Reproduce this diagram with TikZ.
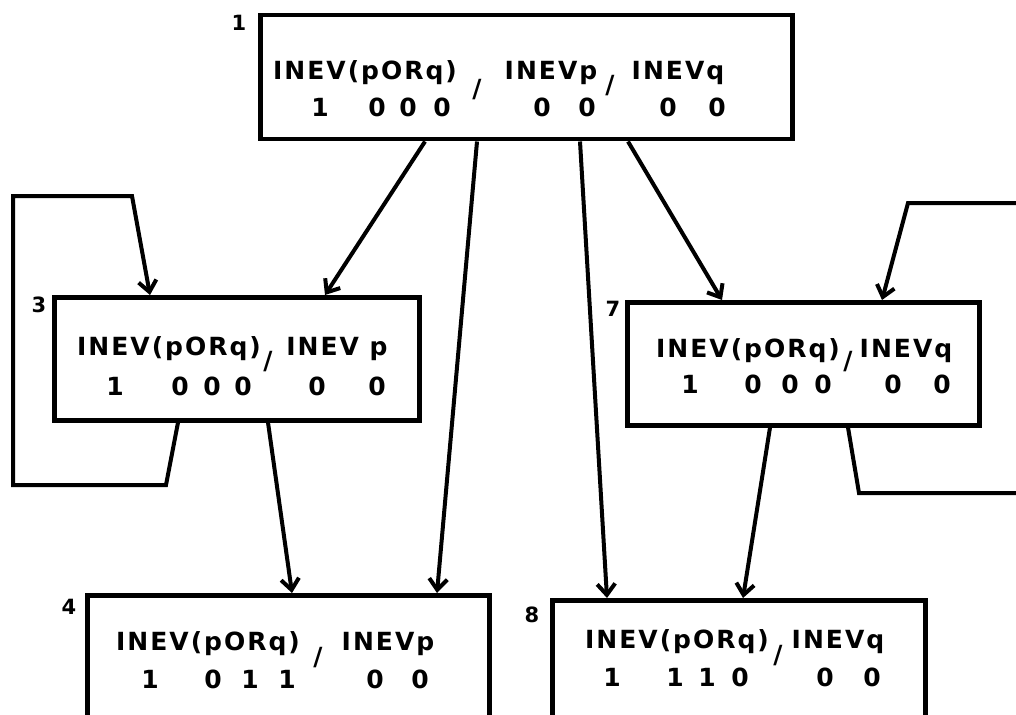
\documentclass[tikz,border=0pt]{standalone}
\usepackage{fontspec}
\newfontfamily\letterfont[LetterSpace=8]{DejaVu Sans}
\usetikzlibrary{arrows.meta, calc}
\tikzset{
    state/.style={draw, line width=4.5pt, rectangle, anchor=north west, inner sep=0pt},
    word/.style={font=\letterfont\bfseries\fontsize{25}{28}\selectfont, inner sep=0pt, anchor=base},
    digit/.style={font=\letterfont\bfseries\fontsize{25}{28}\selectfont, inner sep=0pt, anchor=base},
    comma/.style={font=\letterfont\bfseries\fontsize{25}{28}\selectfont, inner sep=0pt},
    num/.style={font=\letterfont\bfseries\fontsize{21}{24}\selectfont, inner sep=0pt},
    link/.style={line width=4pt, -{Straight Barb[length=11pt,width=18pt]}},
    wire/.style={line width=4pt},
}

\begin{document}
\begin{tikzpicture}[x=1pt, y=-1pt]
\useasboundingbox (0,0) rectangle (1016,714);

% state boxes
\node[state, minimum width=532pt, minimum height=124pt] (b1) at (258,13) {};
\node[state, minimum width=365pt, minimum height=123pt] (b3) at (52,295) {};
\node[state, minimum width=352pt, minimum height=123pt] (b7) at (625,300) {};
\node[state, minimum width=402pt, minimum height=140pt] (b4) at (85,593) {};
\node[state, minimum width=373pt, minimum height=140pt] (b8) at (550,598) {};

% box numbers
\node[num] (n1) at (239,23) {1};
\node[num] (n3) at (39,305) {3};
\node[num] (n7) at (613,309) {7};
\node[num] (n4) at (69,607) {4};
\node[num] (n8) at (532,615) {8};

% box 1
\node[word] (w1a) at (365,80) {INEV(pORq)};
\node[comma] (c1a) at (477,90) {/};
\node[word] (w1b) at (551,80) {INEVp};
\node[comma] (c1b) at (610,86) {/};
\node[word] (w1c) at (678,80) {INEVq};
\foreach \x/\d [count=\i] in {320/1,377/0,408/0,442/0,542/0,587/0,668/0,717/0}
    \node[digit] (v1-\i) at (\x,117) {\d};

% box 3
\node[word] (w3a) at (169,355) {INEV(pORq)};
\node[comma] (c3a) at (268,362) {/};
\node[word] (w3b) at (337,355) {INEV p};
\foreach \x/\d [count=\i] in {115/1,180/0,212/0,243/0,317/0,377/0}
    \node[digit] (v3-\i) at (\x,395) {\d};

% box 7
\node[word] (w7a) at (748,357) {INEV(pORq)};
\node[comma] (c7a) at (848,362) {/};
\node[word] (w7b) at (906,357) {INEVq};
\foreach \x/\d [count=\i] in {690/1,753/0,790/0,823/0,893/0,942/0}
    \node[digit] (v7-\i) at (\x,393) {\d};

% box 4
\node[word] (w4a) at (208,650) {INEV(pORq)};
\node[comma] (c4a) at (318,658) {/};
\node[word] (w4b) at (388,650) {INEVp};
\foreach \x/\d [count=\i] in {150/1,213/0,250/1,287/1,375/0,420/0}
    \node[digit] (v4-\i) at (\x,688) {\d};

% box 8
\node[word] (w8a) at (677,648) {INEV(pORq)};
\node[comma] (c8a) at (778,656) {/};
\node[word] (w8b) at (838,648) {INEVq};
\foreach \x/\d [count=\i] in {612/1,675/1,707/1,740/0,825/0,872/0}
    \node[digit] (v8-\i) at (\x,686) {\d};

% transitions
\draw[link] ($(b1.south west)+(167,0)$) -- ($(b3.north west)+(273,0)$);
\draw[link] ($(b1.south west)+(219,0)$) -- ($(b4.north west)+(352,0)$);
\draw[link] ($(b1.south west)+(322,0)$) -- ($(b8.north west)+(57,0)$);
\draw[link] ($(b1.south west)+(370,0)$) -- ($(b7.north west)+(97,0)$);
\draw[link] ($(b3.south west)+(216,0)$) -- ($(b4.north west)+(207,0)$);
\draw[link] ($(b7.south west)+(145,0)$) -- ($(b8.north west)+(193,0)$);

% self loops
\draw[link] ($(b3.south west)+(126,0)$) -- (166,485) -- (13,485) -- (13,196)
    -- (132,196) -- ($(b3.north west)+(98,0)$);
\coordinate (out7) at (1030,493);
\coordinate (in7) at (1030,203);
\draw[wire] ($(b7.south west)+(223,0)$) -- (859,493) -- (out7);
\draw[link] (in7) -- (908,203) -- ($(b7.north west)+(257,0)$);
\end{tikzpicture}
\end{document}
